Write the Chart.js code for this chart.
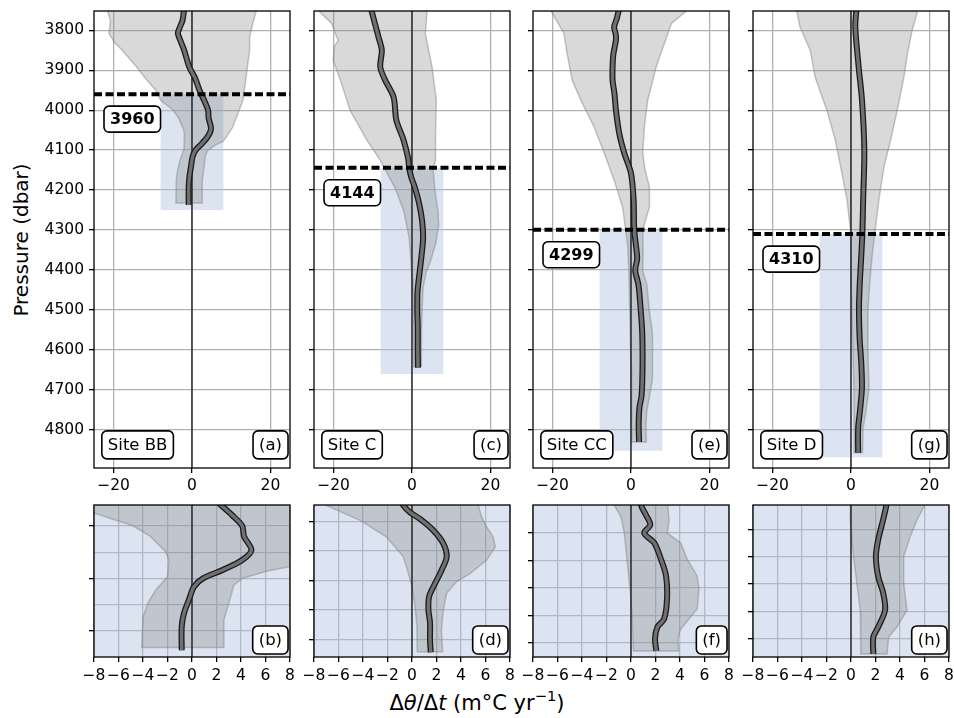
<!DOCTYPE html>
<html>
<head>
<meta charset="utf-8">
<script src="https://cdn.jsdelivr.net/npm/chart.js@4.4.0/dist/chart.umd.min.js"></script>
<style>
  html, body { margin: 0; padding: 0; background: #fff; overflow: hidden; }
  #fig { position: relative; width: 954px; height: 718px; font-family: "DejaVu Sans", sans-serif; color: #000; }
  #fig canvas { position: absolute; }
  #ylabel { position: absolute; left: 21px; top: 240px; font-size: 20px; white-space: nowrap;
            transform: translate(-50%, -50%) rotate(-90deg); }
  #xlabel { position: absolute; left: 0; width: 954px; top: 691px; font-size: 21px; line-height: 24px;
            text-align: center; white-space: nowrap; }
  #xlabel sup { font-size: 0.7em; line-height: 0; vertical-align: 0.6em; }
</style>
</head>
<body>
<div id="fig">
  <div id="ylabel">Pressure (dbar)</div>
  <div id="xlabel">Δ<i>θ</i>/Δ<i>t</i> (m°C yr<sup>−1</sup>)</div>
</div>
<script>
// ---- data ----
const sites = ['Site BB', 'Site C', 'Site CC', 'Site D'];
const topLetters = ['(a)', '(c)', '(e)', '(g)'];
const zoomLetters = ['(b)', '(d)', '(f)', '(h)'];
const thresholds = [3960, 4144, 4299, 4310];
const boxBottoms = [4250, 4660, 4852, 4868];

const pressureTicks = [3800, 3900, 4000, 4100, 4200, 4300, 4400, 4500, 4600, 4700, 4800];
const fullXTicks = [-20, 0, 20];
const zoomXTicks = [-8, -6, -4, -2, 0, 2, 4, 6, 8];
const zoomYGrid = [
  [4000, 4050, 4100, 4150, 4200],
  [4200, 4300, 4400, 4500, 4600],
  [4400, 4500, 4600, 4700, 4800],
  [4400, 4500, 4600, 4700, 4800]
];
const zoomYTicks = [
  [4000, 4100, 4200],
  [4200, 4300, 4400, 4500, 4600],
  [4400, 4500, 4600, 4700, 4800],
  [4400, 4500, 4600, 4700, 4800]
];

// profiles as [pressure, dTheta/dt]
const bbMean = [[3745,-2.0],[3775,-2.4],[3795,-3.2],[3808,-3.6],[3830,-2.8],[3850,-2.0],[3892,-0.7],[3920,0.8],
  [3950,1.9],[3980,3.3],[4000,4.1],[4020,4.25],[4046,4.85],[4065,4.1],[4084,2.5],[4100,0.9],[4116,0.16],
  [4140,-0.24],[4166,-0.65],[4192,-0.84],[4237,-0.84]];
const bbLow = [[3745,-21.8],[3775,-20.8],[3795,-21.0],[3808,-21.2],[3830,-19.8],[3850,-17.8],[3892,-14.1],
  [3920,-11.9],[3950,-9.2],[3975,-8.0],[3989,-6.2],[3999,-4.87],[4020,-3.4],[4049,-2.15],[4065,-1.88],
  [4097,-2.0],[4122,-2.96],[4147,-3.6],[4173,-4.0],[4232,-4.1]];
const bbHigh = [[3745,16.6],[3783,15.5],[3817,14.7],[3850,14.7],[3917,13.8],[3975,13.0],[4042,10.4],
  [4065,8.9],[4078,7.9],[4087,6.0],[4100,4.1],[4113,3.4],[4135,3.16],[4179,2.6],[4232,2.56]];

const cMean = [[3745,-10.5],[3800,-9.0],[3817,-8.55],[3850,-7.7],[3892,-8.1],[3925,-6.85],[3967,-4.7],
  [4025,-4.0],[4075,-2.15],[4120,-1.0],[4146,-0.7],[4169,-0.16],[4191,0.65],[4230,1.74],[4275,2.56],
  [4320,2.83],[4365,2.42],[4409,1.9],[4454,1.4],[4499,1.34],[4544,1.47],[4600,1.47],[4644,1.53]];
const cLow = [[3745,-24.5],[3783,-20.5],[3810,-19.5],[3825,-18.8],[3840,-19.8],[3875,-20.1],[3933,-18.0],
  [4000,-15.8],[4075,-11.5],[4125,-8.1],[4146,-6.96],[4197,-4.2],[4253,-2.07],[4320,-0.7],[4376,-0.3],
  [4421,0.0],[4488,0.25],[4555,0.4],[4642,0.43]];
const cHigh = [[3745,3.9],[3808,3.4],[3892,5.1],[3975,6.2],[4058,6.0],[4125,6.0],[4146,5.4],[4186,5.7],
  [4219,6.1],[4253,6.63],[4286,6.8],[4331,6.1],[4376,4.76],[4404,3.65],[4443,2.83],[4499,2.56],
  [4566,2.4],[4642,2.5]];

const ccMean = [[3745,-3.0],[3770,-3.6],[3792,-4.3],[3810,-3.9],[3825,-3.85],[3860,-4.5],[3892,-4.7],
  [3925,-4.7],[3960,-4.2],[4000,-3.85],[4058,-3.0],[4108,-1.7],[4158,0.0],[4225,0.67],[4299,0.82],
  [4335,1.22],[4371,1.57],[4401,1.08],[4437,1.9],[4497,2.45],[4557,2.86],[4641,2.94],[4714,2.7],
  [4743,2.16],[4786,1.96],[4830,2.07]];
const ccLow = [[3745,-20.8],[3808,-17.1],[3858,-16.3],[3925,-15.0],[3975,-12.8],[4042,-9.4],[4108,-6.8],
  [4175,-4.3],[4242,-2.15],[4299,-1.37],[4341,-0.82],[4401,-0.55],[4521,-0.27],[4641,0.0],[4714,0.1],
  [4830,0.2]];
const ccHigh = [[3745,15.0],[3783,10.3],[3833,8.5],[3892,6.4],[3975,4.26],[4042,3.4],[4108,3.0],[4150,3.6],
  [4192,4.7],[4242,4.7],[4299,3.0],[4353,3.1],[4401,2.97],[4437,4.06],[4497,4.6],[4557,5.4],[4605,5.55],
  [4677,5.4],[4750,4.06],[4786,3.8],[4830,3.9]];

const dMean = [[3745,1.4],[3792,1.1],[3892,1.95],[3975,2.8],[4100,3.4],[4225,3.1],[4307,2.9],[4363,2.63],
  [4437,2.22],[4499,2.03],[4573,2.22],[4634,2.63],[4696,2.78],[4758,2.22],[4795,1.82],[4857,1.82]];
const dLow = [[3745,-14.0],[3792,-13.0],[3850,-10.4],[3917,-9.15],[4000,-6.15],[4075,-4.0],[4158,-2.3],
  [4225,-1.0],[4307,-0.06],[4363,-0.06],[4499,0.2],[4597,0.48],[4696,0.76],[4857,0.8]];
const dHigh = [[3745,17.2],[3800,15.6],[3858,14.4],[3917,13.5],[4000,11.8],[4075,10.1],[4142,8.4],
  [4225,7.1],[4307,6.06],[4363,5.4],[4425,4.84],[4499,4.3],[4597,4.3],[4696,4.57],[4758,3.75],
  [4795,3.07],[4857,2.94]];

const means = [bbMean, cMean, ccMean, dMean];
const lows = [bbLow, cLow, ccLow, dLow];
const highs = [bbHigh, cHigh, ccHigh, dHigh];

// ---- layout ----
const plotLefts = [94, 314, 533, 753];
const plotW = 196;
const fullRange = [3752, 4895];
const fullX = [-25, 25];

const FONT = 'DejaVu Sans';
const fmt = v => String(v).replace('-', '\u2212');
const toPts = arr => arr.map(([p, v]) => ({x: v, y: p}));

// frame + text boxes
const panelDecor = {
  id: 'panelDecor',
  afterDraw(chart, args, opts) {
    const {ctx, chartArea: a} = chart;
    const w = a.right - a.left, h = a.bottom - a.top;
    ctx.save();
    ctx.strokeStyle = '#000';
    ctx.lineWidth = 1.3;
    ctx.strokeRect(a.left, a.top, w, h);

    function box(text, x, yMid, bold, align, bh) {
      ctx.font = (bold ? 'bold 16px ' : '16.5px ') + '"' + FONT + '"';
      const tw = ctx.measureText(text).width;
      const bw = tw + 12;
      const left = align === 'right' ? x - bw : x;
      ctx.beginPath();
      ctx.roundRect(left, yMid - bh / 2, bw, bh, 5);
      ctx.fillStyle = '#fff';
      ctx.fill();
      ctx.lineWidth = 1.6;
      ctx.strokeStyle = '#000';
      ctx.stroke();
      ctx.fillStyle = '#000';
      ctx.textAlign = 'center';
      ctx.textBaseline = 'middle';
      ctx.fillText(text, left + bw / 2, yMid + 1);
    }
    const yMid = a.bottom - 0.02 * h - 14;
    if (opts.site) box(opts.site, a.left + 0.04 * w, yMid, false, 'left', 28);
    box(opts.letter, a.right - 0.01 * w, yMid, false, 'right', 28);
    if (opts.thr) {
      const y = chart.scales.y.getPixelForValue(opts.thr);
      box(String(opts.thr), a.left + 10, y + 25, true, 'left', 26);
    }
    ctx.restore();
  }
};

function makePanel(i, zoom) {
  const yW = (!zoom && i === 0) ? plotLefts[0] : 30;
  const padTop = zoom ? 20 : 11;
  const plotH = zoom ? 152 : 457;
  const xH = 30, padR = 15;
  const cv = document.createElement('canvas');
  cv.width = yW + plotW + padR;
  cv.height = padTop + plotH + xH;
  cv.style.left = (plotLefts[i] - yW) + 'px';
  cv.style.top = (zoom ? 485 : 0) + 'px';
  document.getElementById('fig').appendChild(cv);

  const yMin = zoom ? thresholds[i] : fullRange[0];
  const yMax = zoom ? boxBottoms[i] : fullRange[1];
  const xr = zoom ? [zoomXTicks[0], zoomXTicks[zoomXTicks.length - 1]] : fullX;
  const xTicks = zoom ? zoomXTicks : fullXTicks;
  const yTicks = zoom ? zoomYGrid[i] : pressureTicks;

  const rect = [
    {x: zoomXTicks[0], y: thresholds[i]}, {x: zoomXTicks[zoomXTicks.length - 1], y: thresholds[i]},
    {x: zoomXTicks[zoomXTicks.length - 1], y: boxBottoms[i]}, {x: zoomXTicks[0], y: boxBottoms[i]}
  ];
  const env = toPts(lows[i]).concat(toPts(highs[i]).reverse());

  const datasets = [
    {data: rect, fill: 'shape', backgroundColor: 'rgba(176,196,222,0.45)', borderWidth: 0, order: 7},
    {data: env, fill: 'shape', backgroundColor: 'rgba(128,128,128,0.3)',
     borderColor: 'rgba(128,128,128,0.45)', borderWidth: 1.5, order: 6},
    {data: [{x: 0, y: yMin}, {x: 0, y: yMax}], borderColor: '#222', borderWidth: 1.4, order: 5},
    {data: toPts(means[i]), borderColor: '#1a1a1a', borderWidth: 6, tension: 0.3, order: 4},
    {data: toPts(means[i]), borderColor: '#707070', borderWidth: 3.4, tension: 0.3, order: 3}
  ];
  if (!zoom) {
    datasets.push({data: [{x: fullX[0], y: thresholds[i]}, {x: fullX[1], y: thresholds[i]}],
      borderColor: '#000', borderWidth: 4, borderDash: [8, 3.5], order: 1});
  }
  datasets.forEach(d => { d.pointRadius = 0; d.clip = 0; if (!d.fill) d.fill = false; });

  new Chart(cv, {
    type: 'line',
    data: {datasets},
    options: {
      responsive: false,
      animation: false,
      devicePixelRatio: 1,
      layout: {padding: {top: padTop, right: padR, bottom: 0, left: 0}},
      plugins: {
        legend: {display: false},
        tooltip: {enabled: false},
        panelDecor: {
          site: zoom ? null : sites[i],
          letter: zoom ? zoomLetters[i] : topLetters[i],
          thr: zoom ? null : thresholds[i]
        }
      },
      scales: {
        x: {
          type: 'linear', min: xr[0], max: xr[1],
          afterBuildTicks: s => { s.ticks = xTicks.map(v => ({value: v})); },
          afterFit: s => { s.height = xH; s.paddingLeft = 0; s.paddingRight = 0; },
          grid: {color: '#b0b0b0', lineWidth: 1.3, tickColor: '#000', tickLength: 5, tickWidth: 1.3},
          border: {display: false},
          ticks: {autoSkip: false, maxRotation: 0, minRotation: 0, padding: zoom ? 5 : 4, color: '#000',
                  font: {family: FONT, size: 15.5}, callback: v => fmt(v)}
        },
        y: {
          type: 'linear', reverse: true, min: yMin, max: yMax,
          afterBuildTicks: s => { s.ticks = yTicks.map(v => ({value: v})); },
          afterFit: s => { s.width = yW; s.paddingTop = 0; s.paddingBottom = 0; },
          grid: {color: '#b0b0b0', lineWidth: 1.3, tickLength: 5, tickWidth: 1.3,
                 tickColor: c => (!zoom || zoomYTicks[i].includes(c.tick.value)) ? '#000' : 'rgba(0,0,0,0)'},
          border: {display: false},
          ticks: {display: !zoom && i === 0, padding: 5, color: '#000',
                  font: {family: FONT, size: 15.5}, callback: v => String(v)}
        }
      }
    },
    plugins: [panelDecor]
  });
}

for (let i = 0; i < 4; i++) {
  makePanel(i, false);
  makePanel(i, true);
}
</script>
</body>
</html>
